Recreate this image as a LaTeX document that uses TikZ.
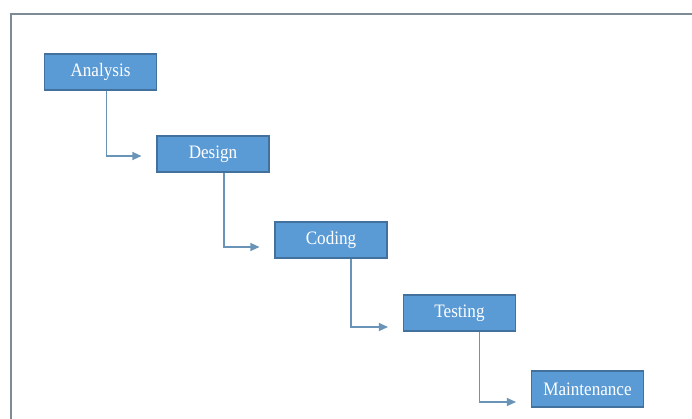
\documentclass[tikz,border=0pt]{standalone}
\usepackage{fontspec}
\setmainfont[FakeStretch=0.9]{Liberation Serif}
\usetikzlibrary{arrows.meta, positioning}

\definecolor{boxblue}{HTML}{5B9BD5}
\definecolor{boxedge}{HTML}{41719C}
\definecolor{linkblue}{HTML}{6A93B8}
\definecolor{framegray}{HTML}{7D8B96}

\begin{document}
\begin{tikzpicture}[
    x=1pt, y=-1pt,
    phase/.style={
        draw=boxedge,
        fill=boxblue,
        text=white,
        line width=1.1pt,
        minimum width=112pt,
        minimum height=36pt,
        inner sep=0pt,
        font=\fontsize{19}{21}\selectfont
    },
    flow/.style={
        draw=linkblue,
        line width=1.2pt,
        shorten >=15pt,
        -{Triangle[length=9pt,width=8pt]}
    }
]
\useasboundingbox (0,0) rectangle (692,419);

% Outer frame (only top and left edges visible)
\draw[framegray, line width=1.3pt] (11,419) -- (11,14) -- (692,14);

% Phases
\node[phase] (analysis) at (100.5,72) {Analysis};
\node[phase] (design)   at (213,154)  {Design};
\node[phase] (coding)   at (331,240)  {Coding};
\node[phase] (testing)  at (459.5,313) {Testing};
\node[phase] (maint)    at (587.5,389) {Maintenance};

% Connections
\foreach \a/\b/\dx/\dy in {analysis/design/6/-2, design/coding/11/-7, coding/testing/20/-14, testing/maint/20/-13} {
    \draw[flow] ([xshift=\dx pt]\a.south) |- ([yshift=\dy pt]\b.west);
}

\end{tikzpicture}
\end{document}
